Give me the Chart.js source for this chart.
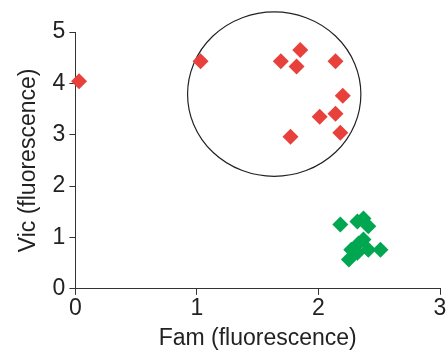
<!DOCTYPE html>
<html lang="en">
<head>
    <meta charset="UTF-8">
    <title>Vic vs Fam</title>
    <script src="https://cdn.jsdelivr.net/npm/chart.js"></script>
    <style>
        body { margin: 0; background: #fff; }
        canvas { display: block; }
    </style>
</head>
<body>
    <canvas id="scatter" width="448" height="354"></canvas>
    <script>
        // red group (Vic)
        const vicX = [0.03, 1.03, 1.69, 1.85, 1.82, 2.14, 2.20, 2.14, 2.01, 1.77, 2.18];
        const vicY = [4.04, 4.43, 4.43, 4.65, 4.33, 4.43, 3.76, 3.41, 3.35, 2.96, 3.04];
        // green group (Fam)
        const famX = [2.18, 2.32, 2.37, 2.41, 2.37, 2.33, 2.27, 2.41, 2.51, 2.25, 2.32];
        const famY = [1.25, 1.31, 1.37, 1.22, 0.96, 0.88, 0.76, 0.76, 0.76, 0.57, 0.70];
        // circled cluster: centre and radii in data units
        const ring = { x: 1.636, y: 3.79, rx: 0.713, ry: 1.60 };

        const pts = (xs, ys) => xs.map((v, i) => ({ x: v, y: ys[i] }));

        const ringPlugin = {
            id: 'ring',
            beforeDatasetsDraw(chart) {
                const { ctx, scales: { x, y } } = chart;
                const cx = x.getPixelForValue(ring.x);
                const cy = y.getPixelForValue(ring.y);
                const rx = x.getPixelForValue(ring.x + ring.rx) - cx;
                const ry = cy - y.getPixelForValue(ring.y + ring.ry);
                ctx.save();
                ctx.beginPath();
                ctx.ellipse(cx, cy, rx, ry, 0, 0, Math.PI * 2);
                ctx.strokeStyle = '#222';
                ctx.lineWidth = 1.2;
                ctx.stroke();
                ctx.restore();
            }
        };

        const font = { family: 'Liberation Sans, Arial, sans-serif', size: 23 };

        new Chart(document.getElementById('scatter'), {
            type: 'scatter',
            data: {
                datasets: [{
                    data: pts(vicX, vicY),
                    pointStyle: 'rectRot',
                    pointRadius: 8,
                    backgroundColor: '#E8413B',
                    borderWidth: 0
                }, {
                    data: pts(famX, famY),
                    pointStyle: 'rectRot',
                    pointRadius: 8,
                    backgroundColor: '#00A650',
                    borderWidth: 0
                }]
            },
            options: {
                responsive: false,
                animation: false,
                clip: false,
                layout: { padding: { top: 32, right: 8, left: 15, bottom: 0 } },
                plugins: { legend: { display: false }, tooltip: { enabled: false } },
                scales: {
                    x: {
                        min: 0, max: 3,
                        ticks: { stepSize: 1, color: '#222', font: font, padding: 0 },
                        grid: { drawOnChartArea: false, tickLength: 6, color: '#333' },
                        border: { color: '#333', width: 1 },
                        title: { display: true, text: 'Fam (fluorescence)', color: '#222', font: font, padding: { top: 2, bottom: 2 } }
                    },
                    y: {
                        min: 0, max: 5,
                        ticks: { stepSize: 1, color: '#222', font: font, padding: 4 },
                        grid: { drawOnChartArea: false, tickLength: 6, color: '#333' },
                        border: { color: '#333', width: 1 },
                        title: { display: true, text: 'Vic (fluorescence)', color: '#222', font: font, padding: { top: 0, bottom: 6 } }
                    }
                }
            },
            plugins: [ringPlugin]
        });
    </script>
</body>
</html>
